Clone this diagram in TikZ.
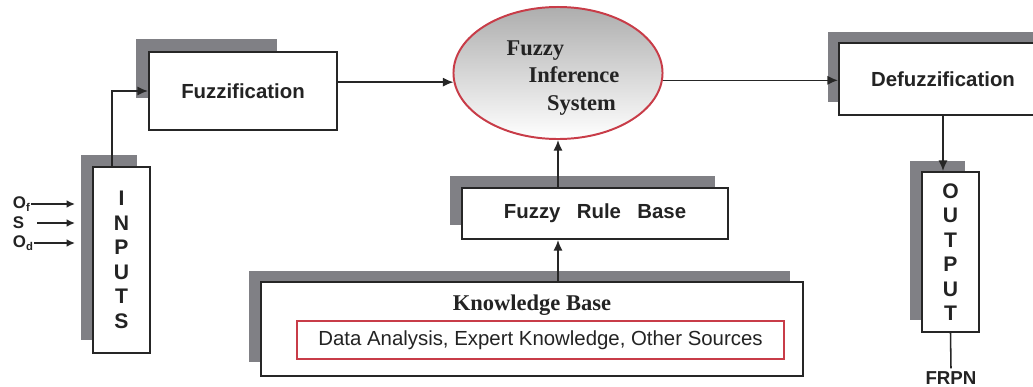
\documentclass[tikz,border=0pt]{standalone}
\usepackage{fontspec}
\setmainfont{Liberation Serif}
\setsansfont{Liberation Sans}
\usetikzlibrary{arrows.meta,shapes.geometric,calc}
\definecolor{shadowgray}{RGB}{128,128,133}
\definecolor{redline}{RGB}{200,60,72}
\definecolor{inkc}{RGB}{35,35,35}
\begin{document}
\begin{tikzpicture}[x=0.025cm,y=-0.025cm,
  box/.style={draw=black!85, line width=1.4pt, fill=white, rectangle, inner sep=0pt,
    text=inkc, font=\sffamily\bfseries\fontsize{14.5}{17}\selectfont},
  letters/.style={align=center, font=\sffamily\bfseries\fontsize{15}{17.4}\selectfont},
  shadowfill/.style={fill=shadowgray},
  conn/.style={draw=black!85, line width=1.1pt, -{Latex[length=7.5pt,width=6.5pt]}},
  smallconn/.style={draw=black!85, line width=1.1pt, -{Latex[length=6pt,width=5.5pt]}},
  plainline/.style={draw=black!85, line width=1.1pt},
  lbl/.style={text=inkc, inner sep=0.5pt, font=\sffamily\bfseries\fontsize{12}{13}\selectfont}
]
\useasboundingbox (0,0) rectangle (1033,387);
\clip (0,0) rectangle (1033,387);
\fill[white] (0,0) rectangle (1033,387);

% shadows
\fill[shadowfill] (136,39) rectangle (277,98);
\fill[shadowfill] (81,155) rectangle (137,340);
\fill[shadowfill] (828,32) rectangle (1040,102);
\fill[shadowfill] (910,161) rectangle (965,320);
\fill[shadowfill] (450,176) rectangle (715,225);
\fill[shadowfill] (249,271) rectangle (790,362);

% boxes
\node[box, minimum width=4.7cm, minimum height=1.95cm] (fuzz) at (243,91) {Fuzzification};
\node[box, letters, minimum width=1.425cm, minimum height=4.65cm] (inputs) at (121.5,260) {I\\N\\P\\U\\T\\S};
\node[box, minimum width=5.2cm, minimum height=1.8cm] (defuzz) at (943,79) {Defuzzification};
\node[box, letters, minimum width=1.425cm, minimum height=4.0cm] (output) at (950.5,252) {O\\U\\T\\P\\U\\T};
\node[box, minimum width=6.65cm, minimum height=1.275cm] (frb) at (595,213.5) {Fuzzy\hspace{0.8em}Rule\hspace{0.8em}Base\hspace{0.9em}};
\node[box, minimum width=13.55cm, minimum height=2.35cm] (kb) at (532,329) {};
\node[text=inkc, font=\rmfamily\bfseries\fontsize{16}{19}\selectfont] (kbtitle) at (532,305) {Knowledge Base};
\node[draw=redline, line width=1.1pt, fill=white, minimum width=12.175cm, minimum height=0.95cm, inner sep=0pt,
  text=inkc, font=\sffamily\fontsize{14.5}{17}\selectfont] (src) at (540.5,340) {Data Analysis, Expert Knowledge, Other Sources};

% ellipse
\node[ellipse, draw=redline, line width=1.4pt, top color=black!32, bottom color=white,
  minimum width=5.225cm, minimum height=3.3cm, inner sep=0pt] (fis) at (558,73) {};
\node[align=left, text=inkc, font=\rmfamily\bfseries\fontsize{16}{19.8}\selectfont] (fistext) at (563,78)
  {Fuzzy\\\hspace*{0.97em}Inference\\\hspace*{1.8em}System};

% input labels
\node[lbl, anchor=west] (of) at (12,204) {O\raisebox{-0.35ex}{\fontsize{8}{9}\selectfont f}};
\node[lbl, anchor=west] (s) at (12,223) {S};
\node[lbl, anchor=west] (od) at (12,243) {O\raisebox{-0.35ex}{\fontsize{8}{9}\selectfont d}};
\coordinate (ofend) at (75,204);
\coordinate (send) at (75,223);
\coordinate (odend) at (75,243);
\draw[smallconn] (of.east |- ofend) -- (ofend);
\draw[smallconn] ([xshift=0.3cm]s.east) -- (send);
\draw[smallconn] (od.east |- odend) -- (odend);

% FRPN
\node[lbl, inner sep=2pt, font=\sffamily\bfseries\fontsize{13.3}{15}\selectfont] (frpn) at (951,378) {FRPN};

% connectors
\draw[conn] ([xshift=-0.2375cm]inputs.north) |- (fuzz.west);
\draw[conn] (fuzz.east |- fis.185.5) -- (fis.185.5);
\draw[conn] (fis.356) -- (fis.356 -| defuzz.west);
\draw[conn] (defuzz.south) -- (defuzz.south |- output.north);
\draw[plainline] (output.south) -- (frpn.north);
\draw[conn] (frb.north -| fis.south) -- (fis.south);
\draw[conn] (kb.north -| fis.south) -- (frb.south -| fis.south);
\end{tikzpicture}
\end{document}
